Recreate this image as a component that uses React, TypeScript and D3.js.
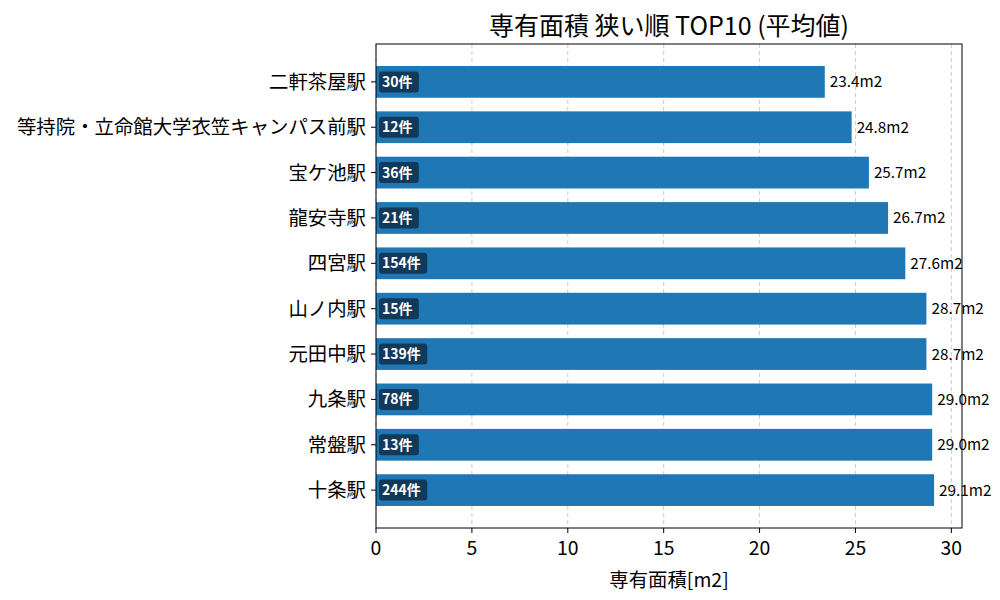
import * as React from "react"
import * as d3 from "d3"

const stations = [
  "二軒茶屋駅",
  "等持院・立命館大学衣笠キャンパス前駅",
  "宝ケ池駅",
  "龍安寺駅",
  "四宮駅",
  "山ノ内駅",
  "元田中駅",
  "九条駅",
  "常盤駅",
  "十条駅",
]
const areas = [23.4, 24.8, 25.7, 26.7, 27.6, 28.7, 28.7, 29.0, 29.0, 29.1]
const counts = [30, 12, 36, 21, 154, 15, 139, 78, 13, 244]
const xTicks = [0, 5, 10, 15, 20, 25, 30]

const FONT = "'Noto Sans CJK JP', 'Noto Sans', sans-serif"

export default function App() {
  const width = 1000
  const height = 600
  const m = { left: 376, right: 38, top: 44, bottom: 72 }
  const x = d3.scaleLinear().domain([0, 29.1 * 1.05]).range([m.left, width - m.right])
  const n = stations.length
  // matplotlib-style limits: bars of height 0.7, 5% margin
  const lo = -0.35, hi = n - 1 + 0.35
  const pad = (hi - lo) * 0.05
  const y = d3.scaleLinear().domain([lo - pad, hi + pad]).range([m.top, height - m.bottom])
  const barH = y(0.35) - y(-0.35)

  return (
    <svg width={width} height={height} style={{ position: "absolute", left: 0, top: 0, fontFamily: FONT }}>
      <rect width={width} height={height} fill="#fff" />
      <text x={(m.left + width - m.right) / 2} y={35} textAnchor="middle" fontSize={25} fill="#000">
        専有面積 狭い順 TOP10 (平均値)
      </text>
      {xTicks.map(t => (
        <line key={"g" + t} x1={x(t)} x2={x(t)} y1={m.top} y2={height - m.bottom}
          stroke="#b0b0b0" strokeDasharray="4,3" strokeWidth={0.8} opacity={0.8} />
      ))}
      {stations.map((s, i) => {
        const cy = y(i)
        const label = `${counts[i]}件`
        const bw = 9 + (label.length - 1) * 8.4 + 14
        return (
          <g key={s}>
            <rect x={x(0)} y={cy - barH / 2} width={x(areas[i]) - x(0)} height={barH} fill="#1f77b4" />
            <rect x={x(0) + 3} y={cy - 10.5} width={bw} height={21} rx={3} fill="#0f3350" opacity={0.9} />
            <text x={x(0) + 6} y={cy + 5} fontSize={14} fontWeight="bold" fill="#fff">{label}</text>
            <text x={x(areas[i]) + 5} y={cy + 5.5} fontSize={15.3} fill="#000">{areas[i].toFixed(1)}m2</text>
            <line x1={m.left - 5} x2={m.left} y1={cy} y2={cy} stroke="#000" />
            <text x={m.left - 10} y={cy + 7} textAnchor="end" fontSize={19.4} fill="#000">{s}</text>
          </g>
        )
      })}
      <rect x={m.left} y={m.top} width={width - m.right - m.left} height={height - m.bottom - m.top}
        fill="none" stroke="#000" strokeWidth={1} />
      {xTicks.map(t => (
        <g key={"t" + t}>
          <line x1={x(t)} x2={x(t)} y1={height - m.bottom} y2={height - m.bottom + 5} stroke="#000" />
          <text x={x(t)} y={height - m.bottom + 27} textAnchor="middle" fontSize={19.4} fill="#000">{t}</text>
        </g>
      ))}
      <text x={(m.left + width - m.right) / 2} y={height - 13} textAnchor="middle" fontSize={19.4} fill="#000">
        専有面積[m2]
      </text>
    </svg>
  )
}
